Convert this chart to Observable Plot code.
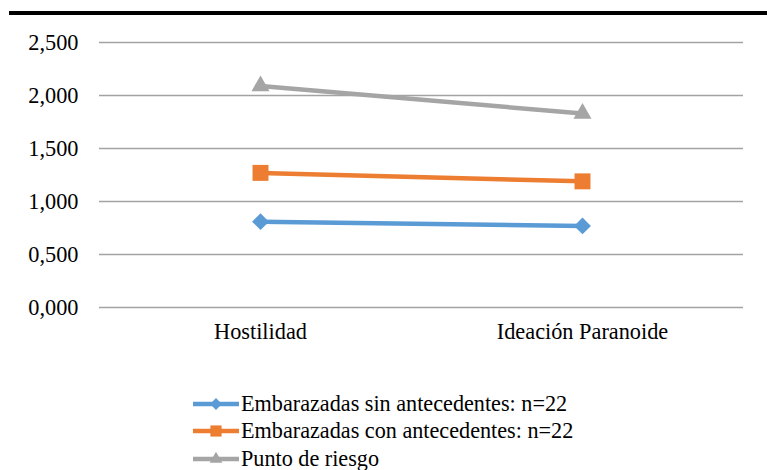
<!DOCTYPE html>
<html>
<head>
<meta charset="utf-8">
<script src="https://cdn.jsdelivr.net/npm/d3@7"></script>
<script src="https://cdn.jsdelivr.net/npm/@observablehq/plot@0.6"></script>
<style>
  html, body { margin: 0; padding: 0; background: #fff; }
  body { width: 767px; height: 470px; position: relative; overflow: hidden; font-family: 'Liberation Serif', Tinos, 'Times New Roman', 'DejaVu Serif', serif; }
  #bar { position: absolute; left: 9px; right: 0; top: 11px; height: 4px; background: #000; }
  #chart { position: absolute; left: 0; top: 0; }
  #legend { position: absolute; left: 193px; top: 390px; font-size: 22.2px; color: #000; }
  .row { display: flex; align-items: center; height: 27.5px; }
  .row svg { display: block; margin-right: 2px; }
</style>
</head>
<body>
<div id="chart"></div>
<div id="bar"></div>
<div id="legend"></div>
<script>
const categories = ["Hostilidad", "Ideación Paranoide"];
const seriesNames = [
  "Embarazadas sin antecedentes: n=22",
  "Embarazadas con antecedentes: n=22",
  "Punto de riesgo"
];
const sinAntecedentes = [0.81, 0.77];
const conAntecedentes = [1.27, 1.19];
const puntoRiesgo = [2.09, 1.83];
const yTicks = [0, 0.5, 1, 1.5, 2, 2.5];
const colors = ["#5B9BD5", "#ED7D31", "#A5A5A5"];
const symbols = ["diamond2", "square", "triangle"];
const markerR = [7.6, 9, 6.7];

const seriesValues = [sinAntecedentes, conAntecedentes, puntoRiesgo];
const data = seriesValues.flatMap((vals, i) =>
  vals.map((v, j) => ({series: seriesNames[i], cat: categories[j], value: v}))
);

const fmt = d => d.toFixed(3).replace(".", ",");
const serif = "'Liberation Serif', Tinos, 'Times New Roman', 'DejaVu Serif', serif";

const marks = [
  Plot.ruleY(yTicks, {stroke: "#a3a3a3", strokeWidth: 1.5})
];
seriesNames.forEach((s, i) => {
  const d = data.filter(r => r.series === s);
  marks.push(Plot.line(d, {x: "cat", y: "value", stroke: colors[i], strokeWidth: 4.5}));
  marks.push(Plot.dot(d, {x: "cat", y: "value", fill: colors[i], symbol: () => symbols[i], r: markerR[i], stroke: "none"}));
});
marks.push(Plot.axisY({ticks: yTicks, tickFormat: fmt, tickSize: 0, tickPadding: 21, fontSize: 22.3, fontFamily: serif}));
marks.push(Plot.axisX({tickSize: 0, tickPadding: 16, fontSize: 22.3, fontFamily: serif}));

const chart = Plot.plot({
  width: 767,
  height: 360,
  marginTop: 42,
  marginBottom: 53,
  marginLeft: 99,
  marginRight: 24,
  style: {fontFamily: serif, fontSize: "22.3px", color: "#000", background: "#fff"},
  x: {type: "point", domain: categories, padding: 0.5, label: null},
  y: {domain: [0, 2.5], label: null},
  symbol: {type: "identity"},
  marks
});
document.getElementById("chart").appendChild(chart);

// legend
const legend = d3.select("#legend");
seriesNames.forEach((s, i) => {
  const row = legend.append("div").attr("class", "row");
  const sv = row.append("svg").attr("width", 46).attr("height", 20);
  sv.append("line").attr("x1", 0).attr("x2", 46).attr("y1", 10).attr("y2", 10)
    .attr("stroke", colors[i]).attr("stroke-width", 4.5);
  const sym = {diamond2: d3.symbolDiamond2, square: d3.symbolSquare, triangle: d3.symbolTriangle}[symbols[i]];
  sv.append("path").attr("transform", "translate(23,10)")
    .attr("d", d3.symbol(sym, Math.PI * (markerR[i] * 0.7) ** 2)())
    .attr("fill", colors[i]);
  row.append("span").text(s);
});
</script>
</body>
</html>
